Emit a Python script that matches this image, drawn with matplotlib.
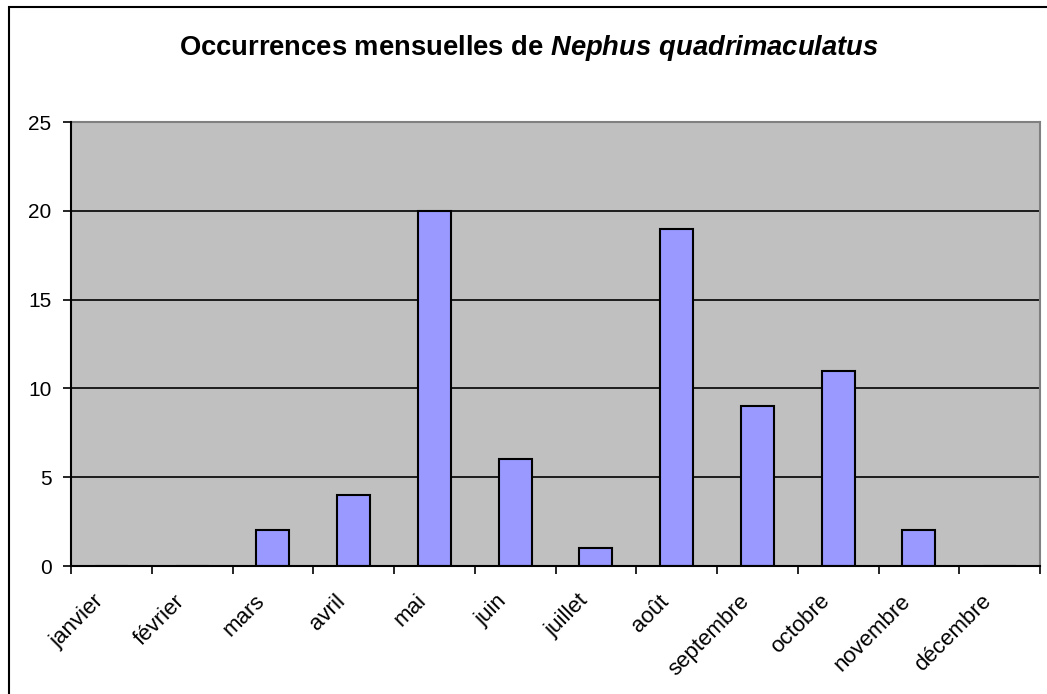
import matplotlib
matplotlib.use("Agg")
import matplotlib.pyplot as plt
from matplotlib.patches import Rectangle
from matplotlib.transforms import ScaledTranslation
import numpy as np

months = ["janvier", "février", "mars", "avril", "mai", "juin", "juillet",
          "août", "septembre", "octobre", "novembre", "décembre"]
counts = [0, 0, 2, 4, 20, 6, 1, 19, 9, 11, 2, 0]
yticks = [0, 5, 10, 15, 20, 25]

plt.rcParams['font.family'] = ['Liberation Sans', 'DejaVu Sans']
plt.rcParams['mathtext.fontset'] = 'custom'
plt.rcParams['mathtext.rm'] = 'Liberation Sans:bold'
plt.rcParams['mathtext.it'] = 'Liberation Sans:italic:bold'
plt.rcParams['mathtext.bf'] = 'Liberation Sans:bold'

W, H = 1047, 694
fig = plt.figure(figsize=(W / 100, H / 100), dpi=100)
fig.patch.set_facecolor('white')

ax = fig.add_axes([71 / W, (H - 566) / H, 969 / W, 444 / H])
ax.set_facecolor('#C0C0C0')

x = np.arange(len(months))
ax.bar(x, counts, width=0.41, color='#9999FF', edgecolor='black', linewidth=1.5, zorder=3)

ax.set_xlim(-0.5, len(months) - 0.5)
ax.set_ylim(0, 25)
ax.set_yticks(yticks)
ax.set_yticklabels([str(v) for v in yticks], fontsize=15)
for v in yticks[1:-1]:
    ax.axhline(v, color='black', linewidth=1.2, zorder=1)

# x ticks at category boundaries, labels at centers
ax.set_xticks(np.arange(-0.5, len(months) + 0.5, 1.0))
ax.set_xticklabels([])
ax.set_xticks(x, minor=True)
ax.set_xticklabels(months, minor=True, fontsize=16, rotation=45,
                   ha='right', va='center', rotation_mode='anchor')
ax.tick_params(axis='x', which='minor', length=0, pad=0)
ax.tick_params(axis='x', which='major', length=6, width=1.2, direction='out')
ax.tick_params(axis='y', length=6, width=1.2, pad=8, direction='out')
offset = ScaledTranslation(-8 / 72, -23 / 72, fig.dpi_scale_trans)
for lab in ax.get_xticklabels(minor=True):
    lab.set_transform(lab.get_transform() + offset)

for side in ['left', 'bottom']:
    ax.spines[side].set_color('black')
    ax.spines[side].set_linewidth(1.5)
    ax.spines[side].set_zorder(4)
for side in ['top', 'right']:
    ax.spines[side].set_color('#808080')
    ax.spines[side].set_linewidth(1.5)

fig.text(0.505, (H - 48) / H, "Occurrences mensuelles de $\\mathit{Nephus\\ quadrimaculatus}$",
         ha='center', va='center', fontsize=19.7, fontweight='bold')

fig.patches.append(Rectangle((8.5 / W, -0.1), 1.2, (H - 7.5) / H + 0.1, fill=False,
                             edgecolor='black', linewidth=1.5, transform=fig.transFigure,
                             figure=fig))

fig.savefig("out.png", dpi=100)
